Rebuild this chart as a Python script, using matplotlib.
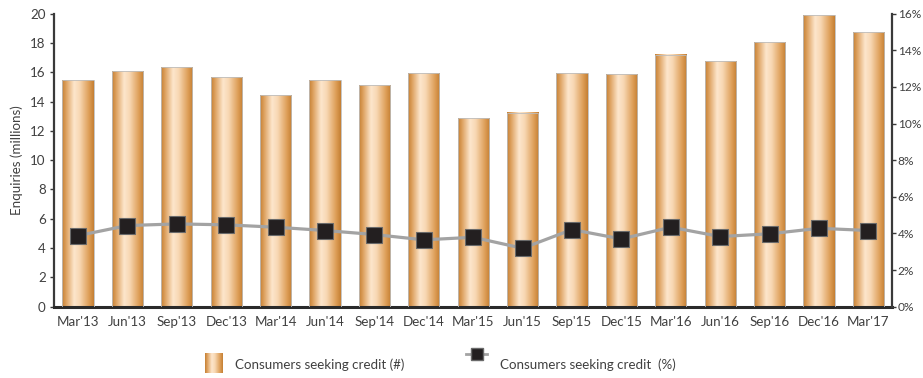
import matplotlib.pyplot as plt
import numpy as np
from matplotlib.colors import LinearSegmentedColormap
from matplotlib.lines import Line2D
from matplotlib.ticker import FuncFormatter

plt.rcParams["font.family"] = ["Lato", "DejaVu Sans"]

quarters = ["Mar'13", "Jun'13", "Sep'13", "Dec'13", "Mar'14", "Jun'14", "Sep'14",
            "Dec'14", "Mar'15", "Jun'15", "Sep'15", "Dec'15", "Mar'16", "Jun'16",
            "Sep'16", "Dec'16", "Mar'17"]
enquiries = [15.45, 16.05, 16.35, 15.65, 14.45, 15.45, 15.1, 15.95, 12.85, 13.25,
             15.95, 15.85, 17.2, 16.75, 18.05, 19.9, 18.75]
seeking_pct = [3.88, 4.43, 4.52, 4.47, 4.34, 4.16, 3.94, 3.65, 3.79, 3.19, 4.21,
               3.70, 4.34, 3.83, 3.98, 4.28, 4.16]

TEXT = "#404040"
SPINE = "#3a3a3a"
FS = 9.6

# copper cylinder look: dark edges, light band just left of centre
copper = LinearSegmentedColormap.from_list(
    "copper_bar",
    [(0.0, "#c47f33"), (0.12, "#dc9f5c"), (0.38, "#fde6cc"),
     (0.55, "#f8d8b4"), (0.85, "#dd9d56"), (1.0, "#c47f33")],
)
gradient = np.linspace(0, 1, 256).reshape(1, -1)

fig = plt.figure(figsize=(9.23, 3.78), dpi=100)
ax = fig.add_axes([0.0585, 0.1886, 0.9075, 0.7754])
x = np.arange(len(quarters))

bars = ax.bar(x, enquiries, width=0.63, facecolor="none",
              edgecolor="#bdbdbd", linewidth=0.6, zorder=3)
for bar in bars:
    x0, w, h = bar.get_x(), bar.get_width(), bar.get_height()
    ax.imshow(gradient, cmap=copper, aspect="auto", zorder=2,
              extent=(x0, x0 + w, 0, h), interpolation="bilinear")

ax.set_xlim(-0.486, 16.47)
ax.set_ylim(0, 20)
ax.set_yticks(np.arange(0, 21, 2))
ax.set_xticks(x)
ax.set_xticklabels(quarters)
ax.tick_params(axis="x", length=0, pad=7, labelsize=FS, colors=TEXT)
ax.tick_params(axis="y", direction="out", length=3, width=1, pad=3,
               labelsize=FS, colors=SPINE, labelcolor=TEXT)
ax.set_ylabel("Enquiries (millions)", fontsize=FS, color=TEXT, labelpad=5)

ax.spines["top"].set_visible(False)
ax.spines["left"].set_color(SPINE)
ax.spines["left"].set_linewidth(1.6)
ax.spines["bottom"].set_color("#2a2a2a")
ax.spines["bottom"].set_linewidth(2.2)
ax.spines["right"].set_visible(False)

ax2 = ax.twinx()
ax2.plot(x, seeking_pct, color="#a3a3a3", linewidth=2.3, marker="s",
         markersize=11, markerfacecolor="#231f20", markeredgecolor="#6a6a6a",
         markeredgewidth=0.8, zorder=5)
ax2.set_ylim(0, 16)
ax2.set_yticks(np.arange(0, 17, 2))
ax2.yaxis.set_major_formatter(FuncFormatter(lambda v, _: f"{v:.0f}%"))
ax2.tick_params(axis="y", direction="out", length=3, width=1, pad=1.5,
                labelsize=8.6, colors=SPINE, labelcolor=TEXT)
for side in ("top", "left", "bottom"):
    ax2.spines[side].set_visible(False)
ax2.spines["right"].set_color(SPINE)
ax2.spines["right"].set_linewidth(1.6)

# legend built by hand: gradient swatch + raised marker handle
swatch = fig.add_axes([205 / 923, 1 - 373 / 378, 17 / 923, 20 / 378])
swatch.imshow(gradient, cmap=copper, aspect="auto", interpolation="bilinear")
swatch.set_axis_off()
fig.text(235 / 923, 1 - 365 / 378, "Consumers seeking credit (#)",
         fontsize=FS, color=TEXT, va="center")
fig.add_artist(Line2D([466 / 923, 487 / 923], [1 - 354 / 378, 1 - 354 / 378],
                      transform=fig.transFigure, color="#a3a3a3", linewidth=2.0))
fig.add_artist(Line2D([476.5 / 923], [1 - 354 / 378], transform=fig.transFigure,
                      marker="s", markersize=8, markerfacecolor="#231f20",
                      markeredgecolor="#6a6a6a", linestyle="none"))
fig.text(500 / 923, 1 - 365 / 378, "Consumers seeking credit  (%)",
         fontsize=FS, color=TEXT, va="center")

fig.savefig("out.png", dpi=100)
